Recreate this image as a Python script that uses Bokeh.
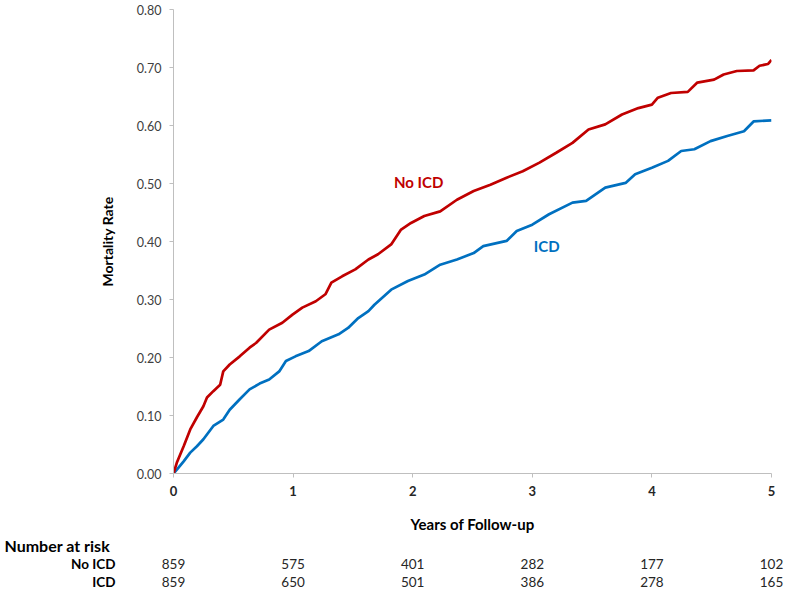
from bokeh.plotting import figure
from bokeh.layouts import column, row
from bokeh.models import Range1d, FixedTicker, NumeralTickFormatter, Label, ColumnDataSource
from bokeh.core.properties import value
from bokeh.embed import file_html
from bokeh.resources import INLINE

# ---- data ----
no_icd_years = [0, 0.03, 0.085, 0.14, 0.196, 0.25, 0.28, 0.333, 0.39, 0.416, 0.47, 0.554, 0.636, 0.69,
                0.80, 0.91, 0.995, 1.077, 1.19, 1.27, 1.32, 1.41, 1.52, 1.63, 1.71, 1.82, 1.90, 1.986,
                2.097, 2.23, 2.37, 2.51, 2.65, 2.785, 2.92, 3.06, 3.2, 3.336, 3.47, 3.61, 3.75, 3.887,
                4.0, 4.05, 4.16, 4.3, 4.38, 4.52, 4.6, 4.71, 4.85, 4.9, 4.97, 5.0]
no_icd_rate = [0, 0.02, 0.047, 0.076, 0.097, 0.116, 0.131, 0.142, 0.153, 0.176, 0.188, 0.202, 0.217, 0.225,
               0.248, 0.26, 0.274, 0.286, 0.297, 0.309, 0.329, 0.34, 0.352, 0.369, 0.378, 0.395, 0.42, 0.432,
               0.444, 0.452, 0.472, 0.487, 0.498, 0.51, 0.521, 0.536, 0.553, 0.57, 0.593, 0.602, 0.619, 0.63,
               0.636, 0.648, 0.656, 0.658, 0.674, 0.679, 0.688, 0.694, 0.695, 0.703, 0.706, 0.713]

icd_years = [0, 0.03, 0.085, 0.14, 0.196, 0.25, 0.333, 0.416, 0.47, 0.554, 0.636, 0.72, 0.80, 0.884,
             0.94, 1.02, 1.13, 1.24, 1.38, 1.46, 1.545, 1.63, 1.68, 1.82, 1.96, 2.097, 2.23, 2.37, 2.51,
             2.59, 2.785, 2.87, 3.0, 3.14, 3.336, 3.45, 3.61, 3.78, 3.86, 4.0, 4.135, 4.245, 4.355, 4.49,
             4.63, 4.77, 4.85, 5.0]
icd_rate = [0, 0.007, 0.021, 0.036, 0.047, 0.059, 0.082, 0.093, 0.110, 0.128, 0.145, 0.155, 0.162, 0.176,
            0.194, 0.202, 0.211, 0.228, 0.24, 0.251, 0.268, 0.28, 0.291, 0.317, 0.332, 0.343, 0.36, 0.369, 0.38,
            0.392, 0.401, 0.418, 0.429, 0.447, 0.467, 0.470, 0.493, 0.501, 0.516, 0.527, 0.539, 0.556, 0.559, 0.573,
            0.582, 0.59, 0.607, 0.609]

risk_years = [0, 1, 2, 3, 4, 5]
risk_no_icd = [859, 575, 401, 282, 177, 102]
risk_icd = [859, 650, 501, 386, 278, 165]
risk_groups = ["No ICD", "ICD"]
y_ticks = [0.0, 0.1, 0.2, 0.3, 0.4, 0.5, 0.6, 0.7, 0.8]

RED = "#C00000"
BLUE = "#0070C0"
FONT = "Lato"
TXT = "#262626"

W = 784
FRAME_W, FRAME_H = 598, 464
LEFT, TOP, BOTTOM = 173, 9, 62
RIGHT = W - LEFT - FRAME_W
X0, X1, Y0, Y1 = 0, 5, 0, 0.8

# ---- main chart ----
p = figure(frame_width=FRAME_W, frame_height=FRAME_H, output_backend="svg", toolbar_location=None,
           x_range=Range1d(X0, X1), y_range=Range1d(Y0, Y1),
           min_border_left=LEFT, min_border_right=RIGHT, min_border_top=TOP, min_border_bottom=BOTTOM)
p.outline_line_color = None
p.grid.visible = False

p.line(icd_years, icd_rate, line_color=BLUE, line_width=2.7)
p.line(no_icd_years, no_icd_rate, line_color=RED, line_width=2.7)

p.add_layout(Label(x=2.05, y=0.502, text="No ICD", text_color=RED, text_font=FONT,
                   text_font_style="bold", text_font_size="15px", text_align="center",
                   text_baseline="middle"))
p.add_layout(Label(x=3.12, y=0.392, text="ICD", text_color=BLUE, text_font=FONT,
                   text_font_style="bold", text_font_size="15px", text_align="center",
                   text_baseline="middle"))

for ax in (p.xaxis[0], p.yaxis[0]):
    ax.axis_line_color = "#bfbfbf"
    ax.major_tick_line_color = "#bfbfbf"
    ax.minor_tick_line_color = None
    ax.major_tick_in = 0
    ax.major_tick_out = 4
    ax.major_label_text_font = FONT
    ax.axis_label_text_font = FONT
    ax.axis_label_text_font_style = "bold"
    ax.axis_label_text_color = "#000000"

p.yaxis.ticker = FixedTicker(ticks=y_ticks)
p.yaxis.formatter = NumeralTickFormatter(format="0.00")
p.yaxis.major_label_text_font_size = "12.5px"
p.yaxis.major_label_text_color = "#404040"
p.yaxis.major_label_standoff = 8
p.yaxis.axis_label = "Mortality Rate"
p.yaxis.axis_label_text_font_size = "14px"
p.yaxis.axis_label_standoff = 18

p.xaxis.ticker = FixedTicker(ticks=risk_years)
p.xaxis.major_label_text_font_size = "13px"
p.xaxis.major_label_text_font_style = "bold"
p.xaxis.major_label_text_color = TXT
p.xaxis.major_label_standoff = 8
p.xaxis.axis_label = "Years of Follow-up"
p.xaxis.axis_label_text_font_size = "15px"
p.xaxis.axis_label_standoff = 16

# ---- number at risk table: two panels under the chart ----
TAB_H = 54
SPLIT = 150                       # width of the left (row label) panel
px_per_year = FRAME_W / (X1 - X0)
ROWS_Y = [28, 46]                 # pixel rows from the table top
HEAD_Y = 10

tl = figure(frame_width=SPLIT, frame_height=TAB_H, output_backend="svg", toolbar_location=None,
            x_range=Range1d(0, SPLIT), y_range=Range1d(TAB_H, 0),
            x_axis_location=None, y_axis_location=None, min_border=0,
            min_border_left=0, min_border_right=0, min_border_top=0, min_border_bottom=0)
tl.outline_line_color = None
tl.grid.visible = False
tl.text(x=[4], y=[HEAD_Y], text=["Number at risk"], text_font=value(FONT), text_font_style="bold",
        text_font_size="16px", text_baseline="middle", text_color="#000000")
tl.text(x=[115] * len(risk_groups), y=ROWS_Y, text=risk_groups, text_font=value(FONT),
        text_font_style="bold", text_font_size="13.5px", text_align="right",
        text_baseline="middle", text_color="#000000")

tr_w = W - SPLIT
x_start = X0 - (LEFT - SPLIT) / px_per_year
tr = figure(frame_width=tr_w, frame_height=TAB_H, output_backend="svg", toolbar_location=None,
            x_range=Range1d(x_start, x_start + tr_w / px_per_year), y_range=Range1d(TAB_H, 0),
            x_axis_location=None, y_axis_location=None, min_border=0,
            min_border_left=0, min_border_right=0, min_border_top=0, min_border_bottom=0)
tr.outline_line_color = None
tr.grid.visible = False
src = ColumnDataSource(dict(x=risk_years,
                            a=[str(v) for v in risk_no_icd], b=[str(v) for v in risk_icd],
                            y1=[ROWS_Y[0]] * len(risk_years), y2=[ROWS_Y[1]] * len(risk_years)))
for col_name, ycol in (("a", "y1"), ("b", "y2")):
    tr.text(x="x", y=ycol, text=col_name, source=src, text_font=value(FONT), text_font_size="13.5px",
            text_align="center", text_baseline="middle", text_color=TXT)

layout = column(p, row(tl, tr, spacing=0), spacing=0)
open("out.html", "w").write(file_html(layout, INLINE))
